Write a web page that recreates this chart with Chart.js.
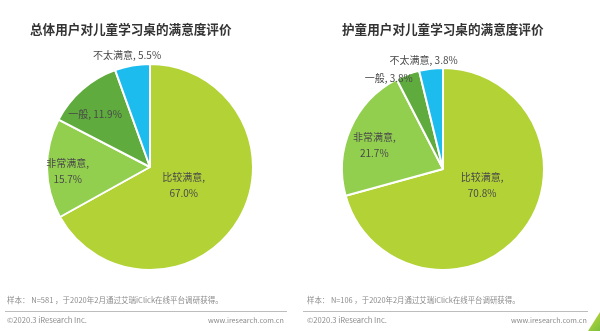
<!DOCTYPE html>
<html lang="zh-CN">
<head>
  <meta charset="UTF-8">
  <title>儿童学习桌满意度评价</title>
  <script src="https://cdn.jsdelivr.net/npm/chart.js"></script>
  <style>
    body {
      margin: 0;
      width: 600px;
      height: 331px;
      position: relative;
      overflow: hidden;
      background: #fff;
      font-family: "Noto Sans CJK SC", "Noto Sans", sans-serif;
    }
    canvas { position: absolute; top: 0; }
    #c1 { left: 0; }
    #c2 { left: 300px; }
    .title {
      position: absolute;
      top: 20px;
      font-size: 12.6px;
      font-weight: bold;
      color: #333;
      line-height: 18px;
      white-space: nowrap;
    }
    .note, .copy {
      position: absolute;
      color: #8c8c8c;
      white-space: nowrap;
      line-height: 10px;
      font-size: 7.5px;
    }
    .note { top: 295px; }
    .copy { top: 315px; }
    .rule {
      position: absolute;
      top: 311px;
      height: 1px;
      background: #bdbdbd;
    }
    #corner {
      position: absolute;
      right: 0;
      bottom: 0;
      width: 12px;
      height: 19px;
      background: linear-gradient(135deg, #c6dc3a, #7cbf3f);
      clip-path: polygon(100% 0, 100% 100%, 0 100%);
    }
  </style>
</head>
<body>
  <canvas id="c1" width="300" height="331"></canvas>
  <canvas id="c2" width="300" height="331"></canvas>

  <div class="title" style="left:30px">总体用户对儿童学习桌的满意度评价</div>
  <div class="title" style="left:342px">护童用户对儿童学习桌的满意度评价</div>

  <div class="note" data-w="216" style="left:7px">样本： N=581 ，于2020年2月通过艾瑞iClick在线平台调研获得。</div>
  <div class="rule" style="left:5px;width:282px"></div>
  <div class="copy" data-w="80" style="left:7px">©2020.3 iResearch Inc.</div>
  <div class="copy" data-w="76" style="left:208px">www.iresearch.com.cn</div>

  <div class="note" data-w="213" style="left:307px">样本： N=106 ，于2020年2月通过艾瑞iClick在线平台调研获得。</div>
  <div class="rule" style="left:303px;width:285px"></div>
  <div class="copy" data-w="80" style="left:307px">©2020.3 iResearch Inc.</div>
  <div class="copy" data-w="76" style="left:511px">www.iresearch.com.cn</div>

  <div id="corner"></div>

  <script>
    // 满意度分类（顺时针，从12点开始）
    const categories = ["比较满意", "非常满意", "一般", "不太满意"];
    const totalValues = [67.0, 15.7, 11.9, 5.5];   // 总体用户
    const hutongValues = [70.8, 21.7, 3.8, 3.8];   // 护童用户
    const sliceColors = ["#b2d235", "#92cf4f", "#5fab3e", "#1dbcef"];

    // 页脚小字：按目标宽度缩放字号
    document.querySelectorAll("[data-w]").forEach(el => {
      el.style.fontSize = "10px";
      const w = el.getBoundingClientRect().width;
      el.style.fontSize = (10 * el.dataset.w / w) + "px";
    });

    // 标签：按扇区中心角放置，dist为半径倍数，shift为角度微调（度）
    const sliceLabels = {
      id: "sliceLabels",
      afterDatasetsDraw(chart, args, opts) {
        const ctx = chart.ctx;
        const meta = chart.getDatasetMeta(0);
        const values = chart.data.datasets[0].data;
        ctx.save();
        ctx.font = '10px "Noto Sans CJK SC"';
        ctx.fillStyle = "#4a4a4a";
        ctx.textAlign = "center";
        ctx.textBaseline = "middle";
        meta.data.forEach((arc, i) => {
          const p = arc.getProps(["x", "y", "startAngle", "endAngle", "outerRadius"], true);
          const a = (p.startAngle + p.endAngle) / 2 + opts.shift[i] * Math.PI / 180;
          const d = p.outerRadius * opts.dist[i];
          const x = p.x + Math.cos(a) * d;
          const y = p.y + Math.sin(a) * d;
          const name = chart.data.labels[i] + ",";
          const val = values[i].toFixed(1) + "%";
          if (opts.twoLine[i]) {
            ctx.fillText(name, x, y - 8);
            ctx.fillText(val, x, y + 8);
          } else {
            ctx.fillText(name + " " + val, x, y);
          }
        });
        ctx.restore();
      }
    };

    function makePie(id, values, padding, labelOpts) {
      return new Chart(document.getElementById(id), {
        type: "pie",
        data: {
          labels: categories,
          datasets: [{
            data: values,
            backgroundColor: sliceColors,
            borderColor: "#fff",
            borderWidth: 2
          }]
        },
        options: {
          responsive: false,
          animation: false,
          layout: { padding: padding },
          plugins: {
            legend: { display: false },
            tooltip: { enabled: false },
            sliceLabels: labelOpts
          }
        },
        plugins: [sliceLabels]
      });
    }

    makePie("c1", totalValues,
      { left: 46, right: 46, top: 63, bottom: 60 },
      { dist: [0.37, 0.80, 0.74, 1.11], shift: [-2.7, -2.3, -5, -1.7], twoLine: [true, true, false, false] });

    makePie("c2", hutongValues,
      { left: 41, right: 55, top: 67, bottom: 60 },
      { dist: [0.42, 0.72, 1.05, 1.09], shift: [-14.5, -4.5, -10.3, -3.3], twoLine: [true, true, false, false] });
  </script>
</body>
</html>
